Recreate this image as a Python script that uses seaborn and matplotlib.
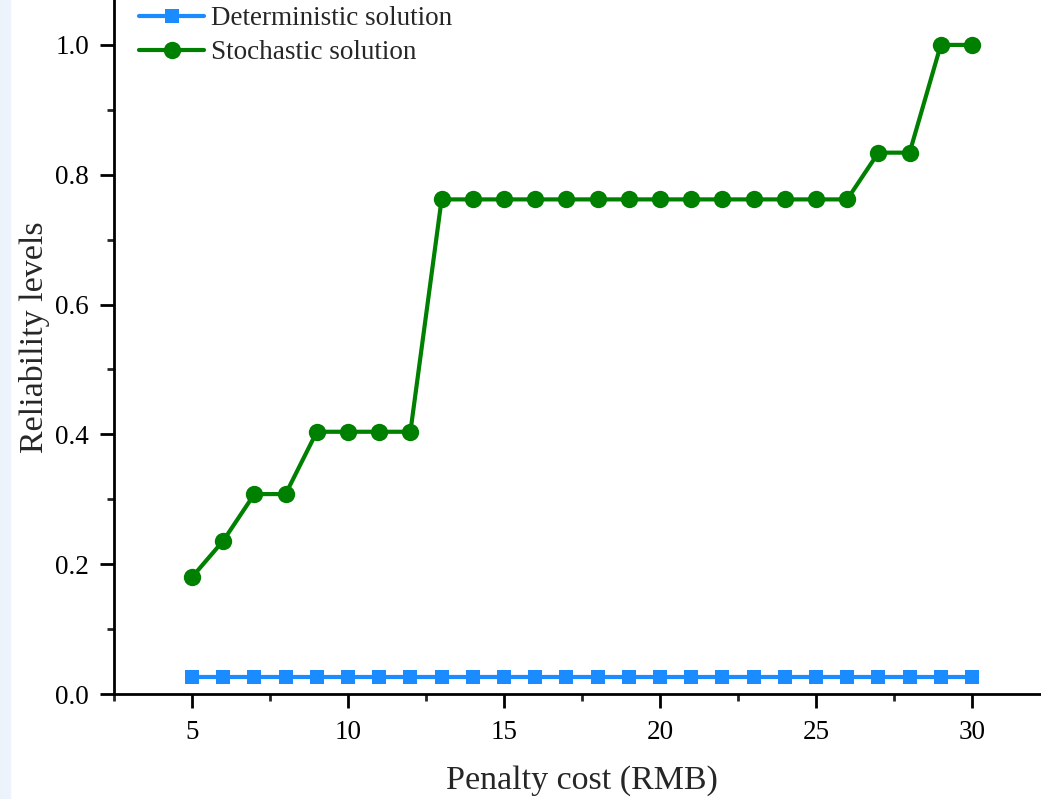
import numpy as np
import pandas as pd
import matplotlib
matplotlib.use("Agg")
from matplotlib import pyplot as plt
from matplotlib.ticker import MultipleLocator, FormatStrFormatter
from matplotlib.patches import Rectangle
import seaborn as sns

penalty_cost = list(range(5, 31))
deterministic = [0.026] * 26
stochastic = [0.180, 0.236, 0.308, 0.308, 0.404, 0.404, 0.404, 0.404,
              0.762, 0.762, 0.762, 0.762, 0.762, 0.762, 0.762, 0.762,
              0.762, 0.762, 0.762, 0.762, 0.762, 0.762,
              0.834, 0.834, 1.0, 1.0]
series_names = ["Deterministic solution", "Stochastic solution"]

df = pd.DataFrame({
    "Penalty cost (RMB)": penalty_cost * 2,
    "Reliability levels": deterministic + stochastic,
    "series": [series_names[0]] * 26 + [series_names[1]] * 26,
})

sns.set_style("ticks")
plt.rcParams["font.family"] = ["Liberation Serif", "DejaVu Serif"]

fig = plt.figure(figsize=(10.41, 7.99), dpi=100)
# axes run past the right and top edges, as in the cropped original
ax = fig.add_axes([114 / 1041, 105 / 799, 936 / 1041, 714 / 799])

fig.patches.append(Rectangle((0, 0), 10 / 1041, 1, transform=fig.transFigure,
                             color="#edf3fa", zorder=-1))

sns.lineplot(data=df, x="Penalty cost (RMB)", y="Reliability levels",
             hue="series", style="series",
             palette={series_names[0]: "#1a8cff", series_names[1]: "#008000"},
             markers={series_names[0]: "s", series_names[1]: "o"},
             dashes=False, markersize=10, markeredgewidth=0,
             ax=ax)

def restyle(line):
    line.set_linewidth(3)
    line.set_markersize(12.5 if line.get_marker() == "o" else 10.5)

for line in ax.lines:
    restyle(line)

ax.set_xlim(2.5, 32.5)
ax.set_ylim(0, 1.1)
ax.set_xticks([5, 10, 15, 20, 25, 30])
ax.set_yticks([0, 0.2, 0.4, 0.6, 0.8, 1.0])
ax.xaxis.set_minor_locator(MultipleLocator(2.5))
ax.yaxis.set_minor_locator(MultipleLocator(0.1))
ax.yaxis.set_major_formatter(FormatStrFormatter("%.1f"))

ax.tick_params(which="major", direction="out", length=10, width=2,
               labelsize=19.5, colors="black")
ax.tick_params(axis="x", which="major", pad=9)
ax.tick_params(axis="y", which="major", pad=8)
ax.tick_params(which="minor", direction="out", length=5, width=2)
for s in ["left", "bottom"]:
    ax.spines[s].set_linewidth(2)
    ax.spines[s].set_color("black")
ax.spines[["top", "right"]].set_visible(False)

ax.set_xlabel("Penalty cost (RMB)", fontsize=24.5, labelpad=14)
ax.set_ylabel("Reliability levels", fontsize=24.5, labelpad=4)

handles, labels = ax.get_legend_handles_labels()
for h in handles:
    restyle(h)
ax.legend(handles, labels, loc="upper left",
          bbox_to_anchor=(139 / 1041, 1 - 6 / 799), bbox_transform=fig.transFigure,
          frameon=False, fontsize=19.5, handlelength=2.4, handletextpad=0.25,
          labelspacing=0.35, borderaxespad=0.0, borderpad=0.0)

fig.savefig("out.png", dpi=100)
